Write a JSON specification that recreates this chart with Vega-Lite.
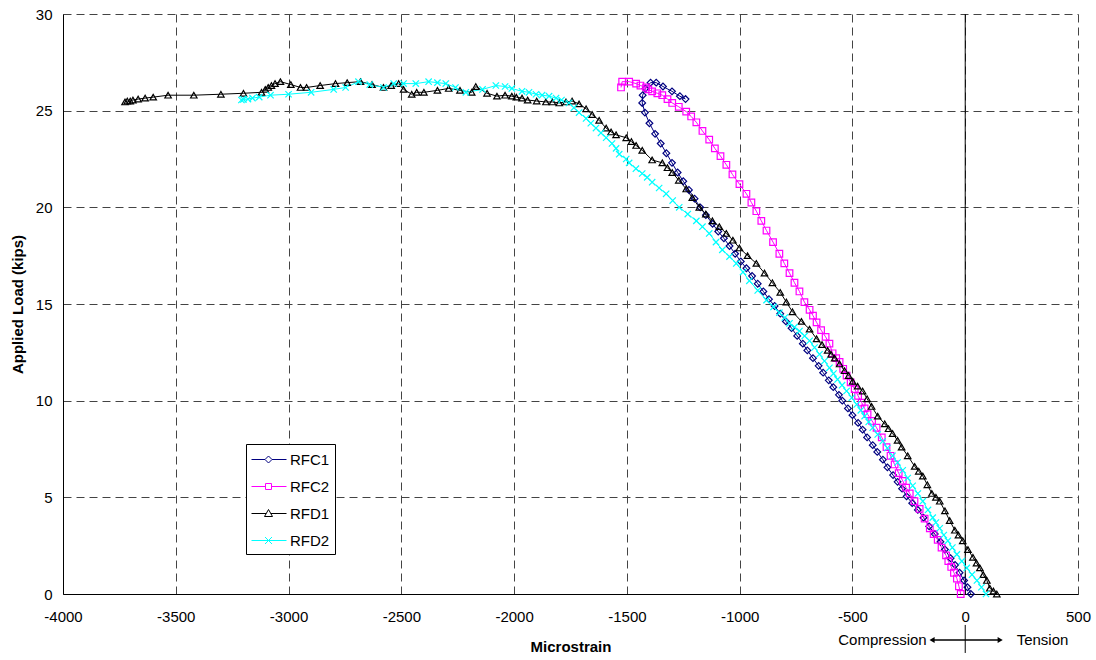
{
"$schema":"https://vega.github.io/schema/vega-lite/v6.json",
"width":1015,"height":580,"autosize":"none",
"padding":{"left":63,"top":14,"right":18,"bottom":66},
"background":"white",
"config":{"view":{"stroke":null},"font":"Liberation Sans",
"axis":{"labelFont":"Liberation Sans","labelFontSize":15,"labelColor":"#000","titleFont":"Liberation Sans","titleFontSize":15,"titleFontWeight":"bold","titleColor":"#000","domainColor":"#000","domainWidth":1,"gridColor":"#444","gridDash":[8,5],"gridWidth":1,"ticks":false}},
"datasets":{
"curves":[
{"series":"RFC1","strain":25,"load":0},{"series":"RFC1","strain":10,"load":0.35},{"series":"RFC1","strain":-5,"load":0.7},{"series":"RFC1","strain":-25,"load":1.1},{"series":"RFC1","strain":-45,"load":1.5},{"series":"RFC1","strain":-65,"load":1.85},{"series":"RFC1","strain":-90,"load":2.3},{"series":"RFC1","strain":-110,"load":2.7},{"series":"RFC1","strain":-135,"load":3.1},{"series":"RFC1","strain":-160,"load":3.5},{"series":"RFC1","strain":-185,"load":3.95},{"series":"RFC1","strain":-210,"load":4.35},{"series":"RFC1","strain":-235,"load":4.7},{"series":"RFC1","strain":-260,"load":5.05},{"series":"RFC1","strain":-280,"load":5.45},{"series":"RFC1","strain":-300,"load":5.8},{"series":"RFC1","strain":-320,"load":6.15},{"series":"RFC1","strain":-345,"load":6.55},{"series":"RFC1","strain":-365,"load":6.95},{"series":"RFC1","strain":-390,"load":7.35},{"series":"RFC1","strain":-410,"load":7.7},{"series":"RFC1","strain":-435,"load":8.1},{"series":"RFC1","strain":-455,"load":8.5},{"series":"RFC1","strain":-475,"load":8.85},{"series":"RFC1","strain":-500,"load":9.25},{"series":"RFC1","strain":-520,"load":9.6},{"series":"RFC1","strain":-545,"load":10.0},{"series":"RFC1","strain":-560,"load":10.3},{"series":"RFC1","strain":-585,"load":10.7},{"series":"RFC1","strain":-605,"load":11.05},{"series":"RFC1","strain":-630,"load":11.45},{"series":"RFC1","strain":-650,"load":11.8},{"series":"RFC1","strain":-675,"load":12.2},{"series":"RFC1","strain":-700,"load":12.6},{"series":"RFC1","strain":-720,"load":12.95},{"series":"RFC1","strain":-745,"load":13.35},{"series":"RFC1","strain":-770,"load":13.75},{"series":"RFC1","strain":-795,"load":14.1},{"series":"RFC1","strain":-820,"load":14.5},{"series":"RFC1","strain":-845,"load":14.9},{"series":"RFC1","strain":-870,"load":15.25},{"series":"RFC1","strain":-895,"load":15.65},{"series":"RFC1","strain":-920,"load":16.05},{"series":"RFC1","strain":-945,"load":16.45},{"series":"RFC1","strain":-970,"load":16.85},{"series":"RFC1","strain":-995,"load":17.2},{"series":"RFC1","strain":-1020,"load":17.6},{"series":"RFC1","strain":-1045,"load":18.0},{"series":"RFC1","strain":-1070,"load":18.4},{"series":"RFC1","strain":-1095,"load":18.75},{"series":"RFC1","strain":-1120,"load":19.15},{"series":"RFC1","strain":-1150,"load":19.6},{"series":"RFC1","strain":-1175,"load":20.0},{"series":"RFC1","strain":-1200,"load":20.45},{"series":"RFC1","strain":-1225,"load":20.9},{"series":"RFC1","strain":-1250,"load":21.35},{"series":"RFC1","strain":-1275,"load":21.8},{"series":"RFC1","strain":-1300,"load":22.3},{"series":"RFC1","strain":-1325,"load":22.8},{"series":"RFC1","strain":-1350,"load":23.3},{"series":"RFC1","strain":-1375,"load":23.8},{"series":"RFC1","strain":-1400,"load":24.35},{"series":"RFC1","strain":-1420,"load":24.9},{"series":"RFC1","strain":-1432,"load":25.4},{"series":"RFC1","strain":-1430,"load":25.8},{"series":"RFC1","strain":-1418,"load":26.15},{"series":"RFC1","strain":-1395,"load":26.45},{"series":"RFC1","strain":-1370,"load":26.45},{"series":"RFC1","strain":-1340,"load":26.25},{"series":"RFC1","strain":-1300,"load":26.0},{"series":"RFC1","strain":-1265,"load":25.75},{"series":"RFC1","strain":-1240,"load":25.6},
{"series":"RFC2","strain":-20,"load":0},{"series":"RFC2","strain":-28,"load":0.4},{"series":"RFC2","strain":-37,"load":0.8},{"series":"RFC2","strain":-50,"load":1.1},{"series":"RFC2","strain":-62,"load":1.4},{"series":"RFC2","strain":-75,"load":1.7},{"series":"RFC2","strain":-85,"load":2.0},{"series":"RFC2","strain":-105,"load":2.4},{"series":"RFC2","strain":-122,"load":2.8},{"series":"RFC2","strain":-140,"load":3.1},{"series":"RFC2","strain":-157,"load":3.4},{"series":"RFC2","strain":-180,"load":3.9},{"series":"RFC2","strain":-202,"load":4.4},{"series":"RFC2","strain":-225,"load":4.8},{"series":"RFC2","strain":-246,"load":5.2},{"series":"RFC2","strain":-262,"load":5.5},{"series":"RFC2","strain":-277,"load":5.85},{"series":"RFC2","strain":-295,"load":6.25},{"series":"RFC2","strain":-313,"load":6.7},{"series":"RFC2","strain":-331,"load":7.15},{"series":"RFC2","strain":-349,"load":7.6},{"series":"RFC2","strain":-370,"load":8.1},{"series":"RFC2","strain":-393,"load":8.6},{"series":"RFC2","strain":-413,"load":8.95},{"series":"RFC2","strain":-433,"load":9.3},{"series":"RFC2","strain":-446,"load":9.6},{"series":"RFC2","strain":-459,"load":9.9},{"series":"RFC2","strain":-475,"load":10.25},{"series":"RFC2","strain":-490,"load":10.6},{"series":"RFC2","strain":-508,"load":10.95},{"series":"RFC2","strain":-526,"load":11.3},{"series":"RFC2","strain":-541,"load":11.65},{"series":"RFC2","strain":-557,"load":12.0},{"series":"RFC2","strain":-572,"load":12.2},{"series":"RFC2","strain":-588,"load":12.45},{"series":"RFC2","strain":-602,"load":12.95},{"series":"RFC2","strain":-619,"load":13.3},{"series":"RFC2","strain":-639,"load":13.65},{"series":"RFC2","strain":-659,"load":14.05},{"series":"RFC2","strain":-675,"load":14.4},{"series":"RFC2","strain":-690,"load":14.7},{"series":"RFC2","strain":-713,"load":15.1},{"series":"RFC2","strain":-735,"load":15.65},{"series":"RFC2","strain":-757,"load":16.1},{"series":"RFC2","strain":-779,"load":16.6},{"series":"RFC2","strain":-802,"load":17.1},{"series":"RFC2","strain":-824,"load":17.6},{"series":"RFC2","strain":-852,"load":18.2},{"series":"RFC2","strain":-881,"load":18.8},{"series":"RFC2","strain":-904,"load":19.3},{"series":"RFC2","strain":-926,"load":19.8},{"series":"RFC2","strain":-948,"load":20.25},{"series":"RFC2","strain":-970,"load":20.7},{"series":"RFC2","strain":-1001,"load":21.2},{"series":"RFC2","strain":-1032,"load":21.7},{"series":"RFC2","strain":-1059,"load":22.2},{"series":"RFC2","strain":-1085,"load":22.65},{"series":"RFC2","strain":-1110,"load":23.05},{"series":"RFC2","strain":-1135,"load":23.5},{"series":"RFC2","strain":-1165,"load":23.95},{"series":"RFC2","strain":-1192,"load":24.4},{"series":"RFC2","strain":-1215,"load":24.7},{"series":"RFC2","strain":-1237,"load":24.95},{"series":"RFC2","strain":-1270,"load":25.2},{"series":"RFC2","strain":-1299,"load":25.4},{"series":"RFC2","strain":-1320,"load":25.6},{"series":"RFC2","strain":-1343,"load":25.8},{"series":"RFC2","strain":-1365,"load":25.9},{"series":"RFC2","strain":-1388,"load":26.0},{"series":"RFC2","strain":-1405,"load":26.1},{"series":"RFC2","strain":-1415,"load":26.2},{"series":"RFC2","strain":-1440,"load":26.3},{"series":"RFC2","strain":-1459,"load":26.4},{"series":"RFC2","strain":-1490,"load":26.5},{"series":"RFC2","strain":-1521,"load":26.5},{"series":"RFC2","strain":-1526,"load":26.2},
{"series":"RFD1","strain":140,"load":0},{"series":"RFD1","strain":125,"load":0.15},{"series":"RFD1","strain":109,"load":0.3},{"series":"RFD1","strain":96,"load":0.7},{"series":"RFD1","strain":80,"load":1.0},{"series":"RFD1","strain":65,"load":1.35},{"series":"RFD1","strain":50,"load":1.6},{"series":"RFD1","strain":34,"load":1.9},{"series":"RFD1","strain":12,"load":2.3},{"series":"RFD1","strain":-11,"load":2.75},{"series":"RFD1","strain":-30,"load":3.05},{"series":"RFD1","strain":-46,"load":3.3},{"series":"RFD1","strain":-69,"load":3.8},{"series":"RFD1","strain":-90,"load":4.3},{"series":"RFD1","strain":-113,"load":4.8},{"series":"RFD1","strain":-130,"load":5.0},{"series":"RFD1","strain":-148,"load":5.2},{"series":"RFD1","strain":-168,"load":5.65},{"series":"RFD1","strain":-188,"load":6.1},{"series":"RFD1","strain":-206,"load":6.35},{"series":"RFD1","strain":-224,"load":6.6},{"series":"RFD1","strain":-255,"load":7.15},{"series":"RFD1","strain":-282,"load":7.6},{"series":"RFD1","strain":-300,"load":7.95},{"series":"RFD1","strain":-322,"load":8.3},{"series":"RFD1","strain":-340,"load":8.55},{"series":"RFD1","strain":-357,"load":8.8},{"series":"RFD1","strain":-388,"load":9.2},{"series":"RFD1","strain":-415,"load":9.7},{"series":"RFD1","strain":-435,"load":10.1},{"series":"RFD1","strain":-455,"load":10.5},{"series":"RFD1","strain":-477,"load":10.75},{"series":"RFD1","strain":-499,"load":11.0},{"series":"RFD1","strain":-517,"load":11.3},{"series":"RFD1","strain":-535,"load":11.55},{"series":"RFD1","strain":-557,"load":11.9},{"series":"RFD1","strain":-579,"load":12.2},{"series":"RFD1","strain":-595,"load":12.4},{"series":"RFD1","strain":-610,"load":12.6},{"series":"RFD1","strain":-635,"load":12.9},{"series":"RFD1","strain":-659,"load":13.2},{"series":"RFD1","strain":-690,"load":13.7},{"series":"RFD1","strain":-726,"load":14.1},{"series":"RFD1","strain":-766,"load":14.6},{"series":"RFD1","strain":-793,"load":15.1},{"series":"RFD1","strain":-820,"load":15.6},{"series":"RFD1","strain":-855,"load":16.1},{"series":"RFD1","strain":-890,"load":16.6},{"series":"RFD1","strain":-926,"load":17.1},{"series":"RFD1","strain":-965,"load":17.5},{"series":"RFD1","strain":-1001,"load":17.9},{"series":"RFD1","strain":-1030,"load":18.3},{"series":"RFD1","strain":-1059,"load":18.65},{"series":"RFD1","strain":-1090,"load":19.0},{"series":"RFD1","strain":-1121,"load":19.3},{"series":"RFD1","strain":-1150,"load":19.65},{"series":"RFD1","strain":-1179,"load":20.0},{"series":"RFD1","strain":-1210,"load":20.5},{"series":"RFD1","strain":-1237,"load":20.95},{"series":"RFD1","strain":-1270,"load":21.4},{"series":"RFD1","strain":-1299,"load":21.8},{"series":"RFD1","strain":-1320,"load":22.05},{"series":"RFD1","strain":-1343,"load":22.3},{"series":"RFD1","strain":-1388,"load":22.45},{"series":"RFD1","strain":-1432,"load":22.95},{"series":"RFD1","strain":-1459,"load":23.2},{"series":"RFD1","strain":-1480,"load":23.4},{"series":"RFD1","strain":-1503,"load":23.6},{"series":"RFD1","strain":-1548,"load":23.75},{"series":"RFD1","strain":-1570,"load":23.9},{"series":"RFD1","strain":-1592,"load":24.1},{"series":"RFD1","strain":-1623,"load":24.5},{"series":"RFD1","strain":-1654,"load":24.8},{"series":"RFD1","strain":-1681,"load":25.1},{"series":"RFD1","strain":-1712,"load":25.35},{"series":"RFD1","strain":-1743,"load":25.5},{"series":"RFD1","strain":-1770,"load":25.45},{"series":"RFD1","strain":-1800,"load":25.4},{"series":"RFD1","strain":-1830,"load":25.45},{"series":"RFD1","strain":-1859,"load":25.45},{"series":"RFD1","strain":-1900,"load":25.5},{"series":"RFD1","strain":-1940,"load":25.55},{"series":"RFD1","strain":-1965,"load":25.65},{"series":"RFD1","strain":-1990,"load":25.7},{"series":"RFD1","strain":-2010,"load":25.75},{"series":"RFD1","strain":-2040,"load":25.8},{"series":"RFD1","strain":-2076,"load":25.75},{"series":"RFD1","strain":-2120,"load":25.9},{"series":"RFD1","strain":-2170,"load":26.25},{"series":"RFD1","strain":-2188,"load":25.95},{"series":"RFD1","strain":-2240,"load":26.05},{"series":"RFD1","strain":-2290,"load":26.15},{"series":"RFD1","strain":-2340,"load":26.05},{"series":"RFD1","strain":-2400,"load":25.95},{"series":"RFD1","strain":-2432,"load":25.95},{"series":"RFD1","strain":-2454,"load":25.85},{"series":"RFD1","strain":-2490,"load":26.1},{"series":"RFD1","strain":-2512,"load":26.4},{"series":"RFD1","strain":-2545,"load":26.3},{"series":"RFD1","strain":-2579,"load":26.2},{"series":"RFD1","strain":-2630,"load":26.35},{"series":"RFD1","strain":-2681,"load":26.5},{"series":"RFD1","strain":-2740,"load":26.45},{"series":"RFD1","strain":-2792,"load":26.4},{"series":"RFD1","strain":-2860,"load":26.3},{"series":"RFD1","strain":-2920,"load":26.2},{"series":"RFD1","strain":-2947,"load":26.2},{"series":"RFD1","strain":-2990,"load":26.35},{"series":"RFD1","strain":-3036,"load":26.5},{"series":"RFD1","strain":-3060,"load":26.4},{"series":"RFD1","strain":-3076,"load":26.3},{"series":"RFD1","strain":-3090,"load":26.2},{"series":"RFD1","strain":-3103,"load":26.1},{"series":"RFD1","strain":-3120,"load":25.95},{"series":"RFD1","strain":-3200,"load":25.9},{"series":"RFD1","strain":-3300,"load":25.85},{"series":"RFD1","strain":-3420,"load":25.8},{"series":"RFD1","strain":-3534,"load":25.8},{"series":"RFD1","strain":-3600,"load":25.7},{"series":"RFD1","strain":-3636,"load":25.65},{"series":"RFD1","strain":-3667,"load":25.6},{"series":"RFD1","strain":-3690,"load":25.55},{"series":"RFD1","strain":-3702,"load":25.5},{"series":"RFD1","strain":-3715,"load":25.5},{"series":"RFD1","strain":-3725,"load":25.45},
{"series":"RFD2","strain":92,"load":0},{"series":"RFD2","strain":72,"load":0.35},{"series":"RFD2","strain":52,"load":0.7},{"series":"RFD2","strain":30,"load":1.0},{"series":"RFD2","strain":7,"load":1.35},{"series":"RFD2","strain":-15,"load":1.7},{"series":"RFD2","strain":-37,"load":2.05},{"series":"RFD2","strain":-57,"load":2.4},{"series":"RFD2","strain":-77,"load":2.75},{"series":"RFD2","strain":-95,"load":3.05},{"series":"RFD2","strain":-113,"load":3.4},{"series":"RFD2","strain":-130,"load":3.7},{"series":"RFD2","strain":-144,"load":3.95},{"series":"RFD2","strain":-165,"load":4.35},{"series":"RFD2","strain":-188,"load":4.8},{"series":"RFD2","strain":-210,"load":5.2},{"series":"RFD2","strain":-233,"load":5.6},{"series":"RFD2","strain":-255,"load":6.0},{"series":"RFD2","strain":-277,"load":6.4},{"series":"RFD2","strain":-300,"load":6.8},{"series":"RFD2","strain":-322,"load":7.15},{"series":"RFD2","strain":-345,"load":7.55},{"series":"RFD2","strain":-366,"load":7.9},{"series":"RFD2","strain":-388,"load":8.25},{"series":"RFD2","strain":-410,"load":8.6},{"series":"RFD2","strain":-428,"load":8.9},{"series":"RFD2","strain":-446,"load":9.2},{"series":"RFD2","strain":-463,"load":9.5},{"series":"RFD2","strain":-481,"load":9.8},{"series":"RFD2","strain":-503,"load":10.15},{"series":"RFD2","strain":-526,"load":10.5},{"series":"RFD2","strain":-546,"load":10.8},{"series":"RFD2","strain":-566,"load":11.1},{"series":"RFD2","strain":-584,"load":11.4},{"series":"RFD2","strain":-602,"load":11.7},{"series":"RFD2","strain":-624,"load":12.05},{"series":"RFD2","strain":-646,"load":12.4},{"series":"RFD2","strain":-668,"load":12.75},{"series":"RFD2","strain":-690,"load":13.1},{"series":"RFD2","strain":-712,"load":13.35},{"series":"RFD2","strain":-735,"load":13.6},{"series":"RFD2","strain":-757,"load":13.8},{"series":"RFD2","strain":-779,"load":14.0},{"series":"RFD2","strain":-800,"load":14.3},{"series":"RFD2","strain":-824,"load":14.55},{"series":"RFD2","strain":-850,"load":14.85},{"series":"RFD2","strain":-881,"load":15.2},{"series":"RFD2","strain":-920,"load":15.7},{"series":"RFD2","strain":-957,"load":16.2},{"series":"RFD2","strain":-985,"load":16.65},{"series":"RFD2","strain":-1015,"load":17.1},{"series":"RFD2","strain":-1045,"load":17.45},{"series":"RFD2","strain":-1077,"load":17.8},{"series":"RFD2","strain":-1105,"load":18.2},{"series":"RFD2","strain":-1135,"load":18.65},{"series":"RFD2","strain":-1165,"load":19.0},{"series":"RFD2","strain":-1192,"load":19.3},{"series":"RFD2","strain":-1230,"load":19.65},{"series":"RFD2","strain":-1268,"load":20.0},{"series":"RFD2","strain":-1297,"load":20.35},{"series":"RFD2","strain":-1326,"load":20.7},{"series":"RFD2","strain":-1357,"load":21.0},{"series":"RFD2","strain":-1388,"load":21.3},{"series":"RFD2","strain":-1410,"load":21.55},{"series":"RFD2","strain":-1432,"load":21.75},{"series":"RFD2","strain":-1460,"load":22.0},{"series":"RFD2","strain":-1490,"load":22.3},{"series":"RFD2","strain":-1503,"load":22.5},{"series":"RFD2","strain":-1534,"load":22.75},{"series":"RFD2","strain":-1548,"load":23.05},{"series":"RFD2","strain":-1566,"load":23.3},{"series":"RFD2","strain":-1592,"load":23.6},{"series":"RFD2","strain":-1615,"load":23.85},{"series":"RFD2","strain":-1637,"load":24.1},{"series":"RFD2","strain":-1660,"load":24.35},{"series":"RFD2","strain":-1681,"load":24.6},{"series":"RFD2","strain":-1712,"load":24.9},{"series":"RFD2","strain":-1735,"load":25.15},{"series":"RFD2","strain":-1757,"load":25.4},{"series":"RFD2","strain":-1790,"load":25.55},{"series":"RFD2","strain":-1814,"load":25.65},{"series":"RFD2","strain":-1845,"load":25.75},{"series":"RFD2","strain":-1876,"load":25.8},{"series":"RFD2","strain":-1903,"load":25.85},{"series":"RFD2","strain":-1934,"load":25.95},{"series":"RFD2","strain":-1965,"load":26.0},{"series":"RFD2","strain":-2010,"load":26.15},{"series":"RFD2","strain":-2040,"load":26.25},{"series":"RFD2","strain":-2081,"load":26.3},{"series":"RFD2","strain":-2140,"load":26.1},{"series":"RFD2","strain":-2214,"load":25.95},{"series":"RFD2","strain":-2260,"load":26.2},{"series":"RFD2","strain":-2303,"load":26.4},{"series":"RFD2","strain":-2340,"load":26.45},{"series":"RFD2","strain":-2379,"load":26.5},{"series":"RFD2","strain":-2436,"load":26.4},{"series":"RFD2","strain":-2490,"load":26.4},{"series":"RFD2","strain":-2534,"load":26.4},{"series":"RFD2","strain":-2579,"load":26.2},{"series":"RFD2","strain":-2640,"load":26.35},{"series":"RFD2","strain":-2690,"load":26.5},{"series":"RFD2","strain":-2747,"load":26.2},{"series":"RFD2","strain":-2800,"load":26.1},{"series":"RFD2","strain":-2900,"load":25.95},{"series":"RFD2","strain":-3000,"load":25.85},{"series":"RFD2","strain":-3080,"load":25.8},{"series":"RFD2","strain":-3130,"load":25.7},{"series":"RFD2","strain":-3160,"load":25.65},{"series":"RFD2","strain":-3180,"load":25.6},{"series":"RFD2","strain":-3200,"load":25.58},{"series":"RFD2","strain":-3209,"load":25.55}
]},
"encoding":{
"x":{"field":"strain","type":"quantitative","scale":{"domain":[-4000,500],"nice":false,"zero":false},
"axis":{"title":"Microstrain","values":[-4000,-3500,-3000,-2500,-2000,-1500,-1000,-500,0,500],"labelExpr":"''+datum.value","labelFlush":false,"labelOverlap":false,"labelPadding":15,"titlePadding":15,"grid":true}},
"y":{"field":"load","type":"quantitative","scale":{"domain":[0,30],"nice":false,"zero":false},
"axis":{"title":"Applied Load (kips)","values":[0,5,10,15,20,25,30],"labelExpr":"''+datum.value","labelFlush":false,"labelOverlap":false,"labelPadding":11,"titlePadding":10,"grid":true}}
},
"layer":[
{"data":{"values":[{"strain":0,"load":30,"load_end":0},{"strain":0,"load":-1.6,"load_end":-3.05}]},
 "mark":{"type":"rule","color":"#000","strokeWidth":1},
 "encoding":{"y2":{"field":"load_end"}}},
{"data":{"name":"curves"},
 "mark":{"type":"line","strokeWidth":1},
 "encoding":{"color":{"field":"series","type":"nominal","scale":{"domain":["RFC1","RFC2","RFD1","RFD2"],"range":["#000080","#FF00FF","#000000","#00FFFF"]},"legend":null},"order":{"value":null}}},
{"data":{"name":"curves"},
 "mark":{"type":"point","filled":false,"strokeWidth":1.2,"opacity":1},
 "encoding":{"color":{"field":"series","type":"nominal","scale":{"domain":["RFC1","RFC2","RFD1","RFD2"],"range":["#000080","#FF00FF","#000000","#00FFFF"]},"legend":null},
 "shape":{"field":"series","type":"nominal","scale":{"domain":["RFC1","RFC2","RFD1","RFD2"],"range":["diamond","square","triangle-up","M-1,-1L1,1M-1,1L1,-1"]},"legend":null},
 "size":{"field":"series","type":"nominal","scale":{"domain":["RFC1","RFC2","RFD1","RFD2"],"range":[45,40,64,55]},"legend":null}}},
{"data":{"name":"curves"},
 "mark":{"type":"point","filled":false,"strokeWidth":1,"opacity":0},
 "encoding":{"color":{"field":"series","type":"nominal","scale":{"domain":["RFC1","RFC2","RFD1","RFD2"],"range":["#000080","#FF00FF","#000000","#00FFFF"]},
   "legend":{"orient":"none","legendX":183,"legendY":430,"title":null,"strokeColor":"#000","fillColor":"#fff","padding":5,"symbolSize":400,"labelOffset":18,"rowPadding":8,"symbolStrokeWidth":1,"symbolOpacity":1,"labelFontSize":15,"labelColor":"#000","labelFont":"Liberation Sans"}},
 "shape":{"field":"series","type":"nominal","scale":{"domain":["RFC1","RFC2","RFD1","RFD2"],"range":["M-1,0L0.35,0M1.05,0L2.5,0M0.7,-0.35L1.05,0L0.7,0.35L0.35,0Z","M-1,0L0.4,0M1,0L2.5,0M0.4,-0.3L1,-0.3L1,0.3L0.4,0.3Z","M-1,0L0.47,0M0.93,0L2.5,0M0.7,-0.4L1.1,0.3L0.3,0.3Z","M-1,0L2.5,0M0.35,-0.35L1.05,0.35M0.35,0.35L1.05,-0.35"]},
   "legend":{"orient":"none","legendX":183,"legendY":430,"title":null,"strokeColor":"#000","fillColor":"#fff","padding":5,"symbolSize":400,"labelOffset":18,"rowPadding":8,"symbolStrokeWidth":1,"symbolOpacity":1,"labelFontSize":15,"labelColor":"#000","labelFont":"Liberation Sans"}}}},
{"data":{"values":[{"strain":-171,"load":-2.38,"label":"Compression"}]},
 "mark":{"type":"text","align":"right","baseline":"middle","fontSize":15,"font":"Liberation Sans","color":"#000"},
 "encoding":{"text":{"field":"label"}}},
{"data":{"values":[{"strain":228,"load":-2.38,"label":"Tension"}]},
 "mark":{"type":"text","align":"left","baseline":"middle","fontSize":15,"font":"Liberation Sans","color":"#000"},
 "encoding":{"text":{"field":"label"}}},
{"data":{"values":[{"strain":-150,"strain_end":158,"load":-2.38}]},
 "mark":{"type":"rule","color":"#000","strokeWidth":1.5},
 "encoding":{"x2":{"field":"strain_end"}}},
{"data":{"values":[{"strain":-147,"load":-2.38}]},
 "mark":{"type":"point","shape":"triangle-left","filled":true,"color":"#000","size":35,"opacity":1},
 "encoding":{}},
{"data":{"values":[{"strain":155,"load":-2.38}]},
 "mark":{"type":"point","shape":"triangle-right","filled":true,"color":"#000","size":35,"opacity":1},
 "encoding":{}}
],
"resolve":{"scale":{"shape":"independent","color":"independent","size":"independent"}}
}
